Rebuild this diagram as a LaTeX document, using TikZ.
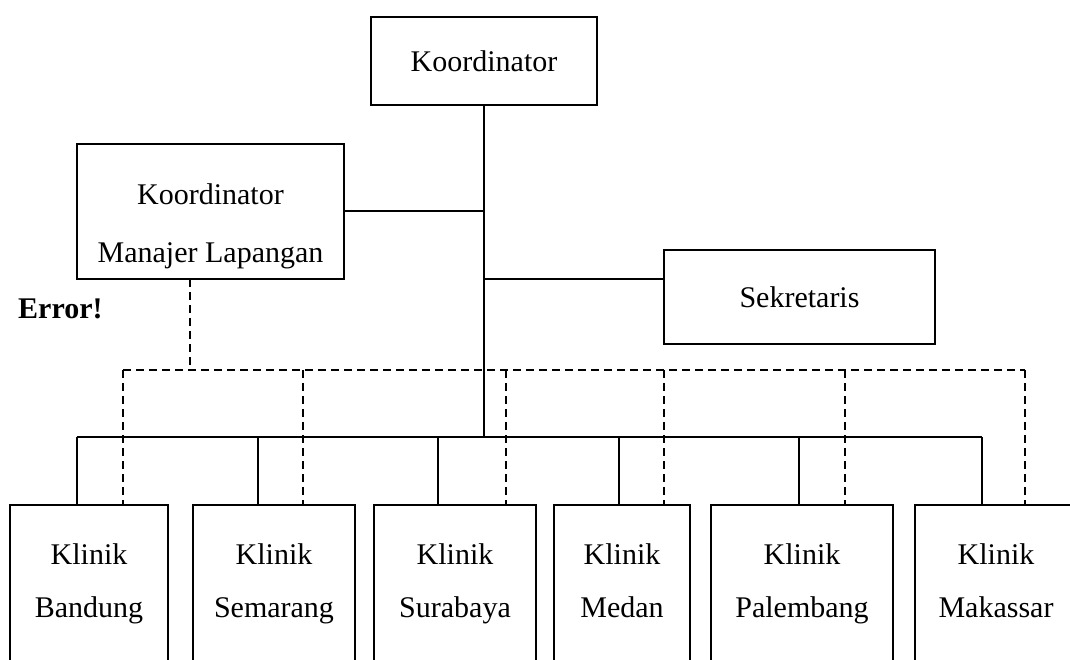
\documentclass[tikz,border=0pt]{standalone}
\usepackage{fontspec}
\setmainfont{Liberation Serif}
\usetikzlibrary{positioning, calc}
\tikzset{
    unit box/.style={rectangle, draw, line width=1.6pt, inner sep=0pt, outer sep=0pt},
    unit label/.style={font=\fontsize{30}{53}\selectfont, align=center, inner sep=0pt},
    link/.style={-, line width=1.3pt},
    staff link/.style={-, line width=1.3pt, dash pattern=on 8pt off 5pt},
}
\begin{document}
\begin{tikzpicture}[x=1pt, y=-1pt]
    \useasboundingbox (0,0) rectangle (1070,660);
    \clip (0,0) rectangle (1070,660);
    % top of the chart
    \node[unit box, unit label, minimum width=226pt, minimum height=88pt] (koord) at (484,61) {Koordinator};
    \node[unit box, minimum width=267pt, minimum height=135pt] (manajer) at (210.5,211.5) {};
    \node[unit label, font=\fontsize{30}{58}\selectfont, anchor=north] (manajer-text) at (210.5,163.4) {\strut Koordinator\\\strut Manajer Lapangan};
    \node[unit box, unit label, minimum width=271pt, minimum height=94pt] (sekretaris) at (799.5,297) {Sekretaris};
    \node[font=\fontsize{30}{36}\selectfont\bfseries, anchor=base west, inner sep=0pt] (error) at (18,318) {Error!};
    % clinics
    \foreach \name/\xl/\xr/\city in {bandung/10/168/Bandung, semarang/193/355/Semarang, surabaya/374/536/Surabaya, medan/554/690/Medan, palembang/711/893/Palembang, makassar/915/1077/Makassar} {
        \node[unit box, anchor=north west, minimum width={\xr-\xl}, minimum height=220pt] (\name) at (\xl,505) {};
        \node[unit label, anchor=north] (\name-text) at ({(\xl+\xr)/2},526.9) {\strut Klinik\\\strut \city};
    }
    % solid lines
    \coordinate (busleft) at (77,437);
    \coordinate (busright) at (982,437);
    \draw[link] (koord.south) -- (koord.south |- busleft);
    \draw[link] (busleft) -- (busright);
    \draw[link] (manajer.east |- 0,211) -- (koord.south |- 0,211);
    \draw[link] (koord.south |- 0,279) -- (sekretaris.west |- 0,279);
    \foreach \name/\x in {bandung/77, semarang/258, surabaya/438, medan/619, palembang/799, makassar/982}
        \draw[link] (\x,437) -- (\x,437 |- \name.north);
    % dashed lines
    \coordinate (staffleft) at (123,370);
    \coordinate (staffright) at (1025,370);
    \draw[staff link] (manajer.south -| 190,0) -- (190,370);
    \draw[staff link] (staffleft) -- (staffright);
    \foreach \name/\x in {bandung/123, semarang/303, surabaya/506, medan/664, palembang/845, makassar/1025}
        \draw[staff link] (\x,370) -- (\x,370 |- \name.north);
\end{tikzpicture}
\end{document}
